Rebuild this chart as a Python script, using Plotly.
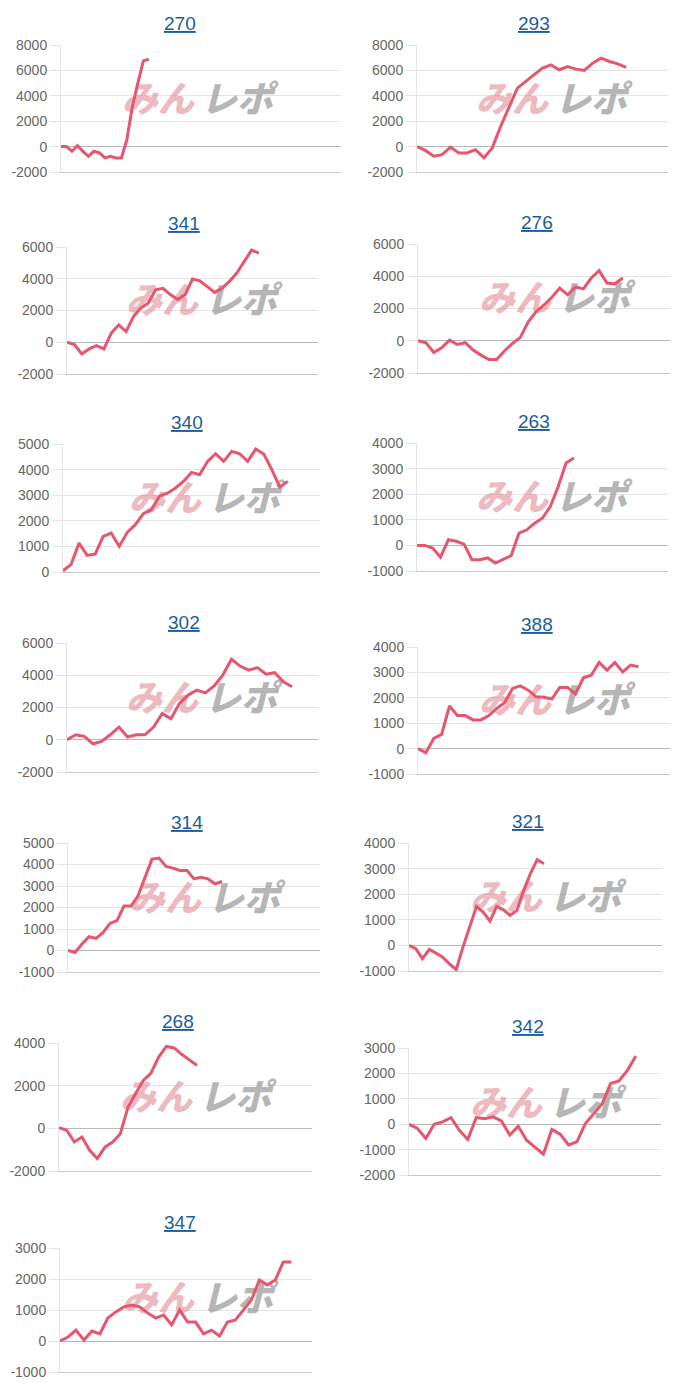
import plotly.graph_objects as go

# ---- data ----
machines = ['270', '293', '341', '276', '340', '263', '302',
            '388', '314', '321', '268', '342', '347']

diff_270 = [0, 0, -370, 80, -370, -760, -370, -500, -890, -760, -890, -890,
            550, 3170, 5000, 6750, 6880]
diff_293 = [0, -300, -760, -630, -50, -500, -500, -240, -890, -100, 1600, 3170,
            4600, 5130, 5650, 6180, 6440, 6050, 6300, 6100, 6000, 6570, 6960,
            6700, 6520, 6230]
diff_341 = [0, -150, -740, -420, -210, -420, 570, 1100, 670, 1620, 2150, 2460,
            3300, 3400, 3000, 2700, 3000, 3980, 3870, 3500, 3140, 3400, 3830,
            4360, 5100, 5800, 5620]
diff_276 = [0, -120, -730, -440, 40, -230, -120, -580, -890, -1160, -1160, -620,
            -170, 210, 1180, 1800, 2220, 2700, 3260, 2850, 3330, 3220, 3890,
            4350, 3580, 3530, 3890]
diff_340 = [50, 290, 1130, 650, 700, 1390, 1520, 1000, 1550, 1850, 2280, 2430,
            2960, 3080, 3280, 3540, 3890, 3800, 4320, 4620, 4320, 4710, 4620,
            4320, 4800, 4610, 4000, 3320, 3540]
diff_263 = [0, 0, -100, -460, 220, 160, 50, -560, -560, -490, -690, -530, -400,
            480, 610, 870, 1070, 1520, 2300, 3220, 3410]
diff_302 = [0, 310, 210, -250, -100, 310, 790, 170, 310, 310, 790, 1620, 1310,
            2250, 2770, 3080, 2910, 3330, 4010, 4990, 4570, 4320, 4470, 4070,
            4160, 3600, 3290]
diff_388 = [0, -160, 400, 560, 1680, 1300, 1300, 1130, 1130, 1300, 1580, 1810,
            2370, 2470, 2300, 2040, 2020, 1950, 2410, 2410, 2150, 2790, 2890,
            3390, 3090, 3390, 3020, 3290, 3220]
diff_314 = [0, -90, 300, 640, 560, 830, 1260, 1390, 2070, 2070, 2540, 3440, 4250,
            4300, 3910, 3830, 3720, 3720, 3330, 3410, 3330, 3100, 3210]
diff_321 = [0, -130, -520, -160, -300, -460, -720, -950, -60, 720, 1520, 1300,
            950, 1520, 1390, 1170, 1370, 2150, 2800, 3350, 3190]
diff_268 = [30, -90, -640, -410, -1030, -1420, -880, -640, -250, 1000, 1630, 2250,
            2590, 3340, 3840, 3770, 3470, 3220, 2950]
diff_342 = [0, -170, -560, 0, 90, 260, -240, -600, 260, 220, 290, 130, -430, -80,
            -630, -920, -1180, -210, -390, -820, -690, 30, 420, 810, 1600, 1700,
            2120, 2680]
diff_347 = [0, 130, 350, 30, 320, 230, 740, 940, 1100, 1160, 1100, 900, 740, 840,
            520, 1000, 610, 610, 230, 350, 160, 610, 680, 1000, 1320, 1970, 1810,
            1970, 2550, 2550]

series = [diff_270, diff_293, diff_341, diff_276, diff_340, diff_263, diff_302,
          diff_388, diff_314, diff_321, diff_268, diff_342, diff_347]

# axis settings per chart
slots = [51, 30, 34, 32, 32, 32, 29, 32, 36, 37.5, 33, 30, 31.6]
y_min = [-2000, -2000, -2000, -2000, 0, -1000, -2000, -1000, -1000, -1000, -2000, -2000, -1000]
y_max = [8000, 8000, 6000, 6000, 5000, 4000, 6000, 4000, 5000, 4000, 4000, 3000, 3000]
y_step = [2000, 2000, 2000, 2000, 1000, 1000, 2000, 1000, 1000, 1000, 2000, 1000, 1000]

# ---- layout in page pixels: plot box (left, right, top, bottom) and title centre ----
# the page body has an 8px margin, so the figure is shrunk to fit the window
PAGE_W, PAGE_H, BODY = 700, 1400, 8
W, H = PAGE_W - 2 * BODY, PAGE_H - 2 * BODY
boxes = [(61, 341, 45, 172), (417, 668, 45, 172),
         (67, 318, 247, 374), (418, 670, 244, 373),
         (63, 320, 444, 572), (417, 668, 443, 571),
         (67, 318, 643, 772), (418, 670, 647, 774),
         (68, 320, 843, 972), (409, 662, 843, 971),
         (59, 312, 1043, 1171), (409, 661, 1048, 1175),
         (60, 312, 1248, 1372)]
title_pos = [(180, 23), (534, 23), (184, 224), (537, 222), (187, 422), (534, 421),
             (184, 622), (537, 624), (187, 822), (528, 821), (178, 1021), (528, 1027),
             (180, 1222)]

LINE = '#e6566f'
TICK_FONT = dict(family='Arial, Liberation Sans, sans-serif', size=14, color='#666666')


def px_x(v):
    return (v - BODY) / W


def px_y(v):
    return 1 - (v - BODY) / H


fig = go.Figure()
annotations = []

for i, (name, vals) in enumerate(zip(machines, series)):
    n = i + 1
    xa = 'x' if n == 1 else 'x%d' % n
    ya = 'y' if n == 1 else 'y%d' % n
    left, right, top, bottom = boxes[i]

    # watermark, drawn first so the line sits on top of it
    tx, ty = title_pos[i]
    cx, cy = tx + 17, ty + 80

    def to_data(px, py):
        xd = (px - left) / (right - left) * slots[i]
        yd = y_max[i] - (py - top) / (bottom - top) * (y_max[i] - y_min[i])
        return xd, yd

    p1 = to_data(cx - 39, cy)
    p2 = to_data(cx + 40, cy)
    fig.add_trace(go.Scatter(
        x=[p1[0], p2[0]], y=[p1[1], p2[1]], mode='text',
        text=['みん', 'レポ'], textposition='middle center',
        textfont=dict(family='Noto Sans CJK JP', size=36, weight=900, style='italic',
                      color=['rgba(226,140,150,0.62)', 'rgba(150,150,150,0.7)']),
        hoverinfo='skip', showlegend=False, cliponaxis=False,
        xaxis=xa, yaxis=ya))

    fig.add_trace(go.Scatter(
        x=list(range(len(vals))), y=vals, mode='lines',
        line=dict(color=LINE, width=3), showlegend=False,
        xaxis=xa, yaxis=ya))

    tickvals = list(range(y_min[i], y_max[i] + 1, y_step[i]))
    fig.layout['xaxis' if n == 1 else 'xaxis%d' % n] = dict(
        domain=[px_x(left), px_x(right)], range=[0, slots[i]],
        showgrid=False, zeroline=False, showticklabels=False, ticks='',
        showline=True, linecolor='rgba(0,0,0,0.22)', linewidth=1,
        anchor=ya, fixedrange=True, automargin=False)
    fig.layout['yaxis' if n == 1 else 'yaxis%d' % n] = dict(
        domain=[px_y(bottom), px_y(top)],
        range=[y_min[i], y_max[i]],
        tickmode='array', tickvals=tickvals, ticktext=[str(v) for v in tickvals],
        showgrid=True, gridcolor='rgba(0,0,0,0.1)', gridwidth=1,
        zeroline=True, zerolinecolor='rgba(0,0,0,0.28)', zerolinewidth=1,
        showline=True, linecolor='rgba(0,0,0,0.1)', linewidth=1,
        ticks='outside', ticklen=10, tickcolor='rgba(0,0,0,0.1)',
        tickfont=TICK_FONT, anchor=xa, fixedrange=True, automargin=False)

    annotations.append(dict(
        x=px_x(tx), y=px_y(ty), xref='paper', yref='paper',
        text=name, showarrow=False, xanchor='center', yanchor='middle',
        font=dict(family='Arial, Liberation Sans, sans-serif', size=19,
                  color='#1b5e9c', lineposition='under')))

fig.update_layout(
    width=W, height=H,
    margin=dict(l=0, r=0, t=0, b=0, autoexpand=False),
    paper_bgcolor='white', plot_bgcolor='white',
    annotations=annotations,
    showlegend=False,
)

fig.write_html("out.html")
